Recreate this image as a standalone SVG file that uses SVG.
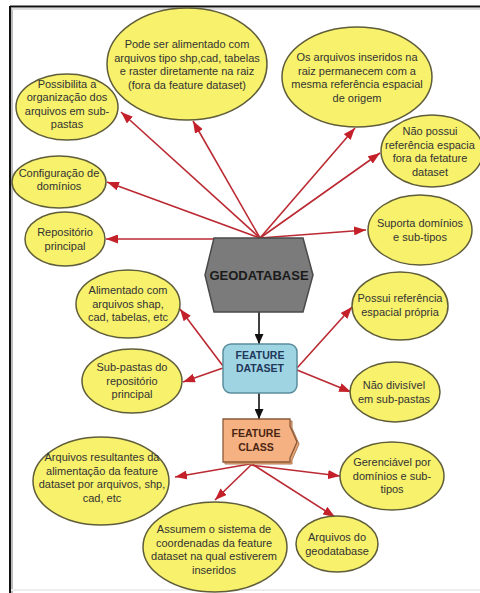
<svg xmlns="http://www.w3.org/2000/svg" width="480" height="593" viewBox="0 0 480 593">
<defs>
<style>
.el{fill:#f7f16b;stroke:#5f5d3a;stroke-width:1.5}
.t{font-family:"Liberation Sans",Arial,sans-serif;font-size:11px;fill:#333;text-anchor:middle}
.red{stroke:#bb2a32;stroke-width:1.6;fill:none;marker-end:url(#ar)}
.blk{stroke:#111;stroke-width:1.6;fill:none;marker-end:url(#ab)}
.bt{font-family:"Liberation Sans",Arial,sans-serif;font-weight:bold;text-anchor:middle}
</style>
<marker id="ar" markerUnits="userSpaceOnUse" markerWidth="12" markerHeight="9" refX="12" refY="4.5" orient="auto"><path d="M0,0 L12,4.5 L0,9 z" fill="#c4202a"/></marker>
<marker id="ab" markerUnits="userSpaceOnUse" markerWidth="10" markerHeight="9" refX="10" refY="4.5" orient="auto"><path d="M0,0 L10,4.5 L0,9 z" fill="#111"/></marker>
</defs>
<rect x="0" y="0" width="480" height="593" fill="#fff"/>
<g id="frame">
<line x1="10" y1="6.5" x2="480" y2="6.5" stroke="#111" stroke-width="2"/>
<line x1="10" y1="6" x2="10" y2="593" stroke="#111" stroke-width="2"/>
<line x1="12" y1="8" x2="12" y2="593" stroke="#bbb" stroke-width="2"/>
<line x1="12" y1="9" x2="480" y2="9" stroke="#ddd" stroke-width="2"/>
<line x1="11" y1="590" x2="480" y2="590" stroke="#eee" stroke-width="2"/>
</g>
<g id="connectors">
<line class="red" x1="260" y1="238" x2="193" y2="121"/>
<line class="red" x1="260" y1="238" x2="121" y2="112"/>
<line class="red" x1="260" y1="238" x2="107" y2="182"/>
<line class="red" x1="260" y1="239" x2="106" y2="239"/>
<line class="red" x1="260" y1="238" x2="355" y2="128"/>
<line class="red" x1="260" y1="238" x2="380" y2="153"/>
<line class="red" x1="260" y1="238" x2="366" y2="230"/>
<line class="blk" x1="259" y1="312" x2="259" y2="344"/>
<line class="blk" x1="259" y1="393" x2="259" y2="419"/>
<line class="red" x1="223" y1="366" x2="180" y2="309"/>
<line class="red" x1="223" y1="368" x2="183" y2="382"/>
<line class="red" x1="297" y1="368" x2="352" y2="307"/>
<line class="red" x1="297" y1="370" x2="351" y2="392"/>
<line class="red" x1="250" y1="464" x2="175" y2="477"/>
<line class="red" x1="251" y1="465" x2="215" y2="500"/>
<line class="red" x1="250" y1="465" x2="340" y2="476"/>
<line class="red" x1="252" y1="464" x2="335" y2="517"/>
</g>
<g id="n-pode">
<ellipse class="el" cx="187" cy="64" rx="80" ry="56"/>
<text class="t" x="187" y="48">Pode ser alimentado com</text>
<text class="t" x="187" y="61.5">arquivos tipo shp,cad, tabelas</text>
<text class="t" x="187" y="75">e raster diretamente na raiz</text>
<text class="t" x="187" y="88.5">(fora da feature dataset)</text>
</g>
<g id="n-raiz">
<ellipse class="el" cx="357" cy="77" rx="75" ry="50"/>
<text class="t" x="357" y="61">Os arquivos inseridos na</text>
<text class="t" x="357" y="74.5">raiz permanecem com a</text>
<text class="t" x="357" y="88">mesma referência espacial</text>
<text class="t" x="357" y="101.5">de origem</text>
</g>
<g id="n-possibilita">
<ellipse class="el" cx="67" cy="107" rx="51" ry="33"/>
<text class="t" x="67" y="87.5">Possibilita a</text>
<text class="t" x="67" y="101">organização dos</text>
<text class="t" x="67" y="114.5">arquivos em sub-</text>
<text class="t" x="67" y="128">pastas</text>
</g>
<g id="n-config">
<ellipse class="el" cx="59" cy="182" rx="47" ry="26"/>
<text class="t" x="59" y="176.5">Configuração de</text>
<text class="t" x="59" y="190">domínios</text>
</g>
<g id="n-repositorio">
<ellipse class="el" cx="65" cy="239" rx="40" ry="27"/>
<text class="t" x="65" y="236">Repositório</text>
<text class="t" x="65" y="249.5">principal</text>
</g>
<g id="n-naopossui">
<ellipse class="el" cx="432" cy="151" rx="51" ry="36"/>
<text class="t" x="430" y="135">Não possui</text>
<text class="t" x="430" y="148.5">referência espacia</text>
<text class="t" x="430" y="162">fora da fetature</text>
<text class="t" x="430" y="175.5">dataset</text>
</g>
<g id="n-suporta">
<ellipse class="el" cx="420" cy="230" rx="52" ry="35"/>
<text class="t" x="420" y="227">Suporta domínios</text>
<text class="t" x="420" y="240.5">e sub-tipos</text>
</g>
<g id="geodatabase">
<polygon points="214,238 303,238 313,275 303,312 214,312 205,275" fill="#7b7b7b" stroke="#4a4a4a" stroke-width="1.5"/>
<text class="bt" x="259" y="280" font-size="13" fill="#1a1a1a">GEODATABASE</text>
</g>
<g id="n-alimentado">
<ellipse class="el" cx="128" cy="304" rx="52" ry="34"/>
<text class="t" x="128" y="294">Alimentado com</text>
<text class="t" x="128" y="307.5">arquivos shap,</text>
<text class="t" x="128" y="321">cad, tabelas, etc</text>
</g>
<g id="n-subpastas">
<ellipse class="el" cx="132" cy="381" rx="50" ry="32"/>
<text class="t" x="132" y="371">Sub-pastas do</text>
<text class="t" x="132" y="384.5">repositório</text>
<text class="t" x="132" y="398">principal</text>
</g>
<g id="n-possui">
<ellipse class="el" cx="400" cy="306" rx="48" ry="34"/>
<text class="t" x="400" y="302">Possui referência</text>
<text class="t" x="400" y="315.5">espacial própria</text>
</g>
<g id="n-naodivisivel">
<ellipse class="el" cx="395" cy="392" rx="45" ry="30"/>
<text class="t" x="394" y="389">Não divisível</text>
<text class="t" x="394" y="402.5">em sub-pastas</text>
</g>
<g id="feature-dataset">
<rect x="223" y="344" width="74" height="49" rx="8" fill="#9fd4e3" stroke="#5a8d9c" stroke-width="1.5"/>
<text class="bt" x="260" y="359" font-size="10.5" fill="#22375a">FEATURE</text>
<text class="bt" x="260" y="372" font-size="10.5" fill="#22375a">DATASET</text>
</g>
<g id="feature-class">
<path d="M225,421 L292,421 L292,428 L299,444 L292,460 L292,464 L225,464 z" fill="#e8a574" stroke="#b07a55" stroke-width="1"/>
<path d="M223,419 L290,419 L290,426 L297,442 L290,458 L290,462 L223,462 z" fill="#f5b182" stroke="#8a5a3a" stroke-width="1.3"/>
<text class="bt" x="256" y="437" font-size="10.5" fill="#4a2612">FEATURE</text>
<text class="bt" x="256" y="451" font-size="10.5" fill="#4a2612">CLASS</text>
</g>
<g id="n-resultantes">
<ellipse class="el" cx="101" cy="481" rx="68" ry="44"/>
<text class="t" x="102" y="461">Arquivos resultantes da</text>
<text class="t" x="102" y="474.5">alimentação da feature</text>
<text class="t" x="102" y="488">dataset por arquivos, shp,</text>
<text class="t" x="102" y="501.5">cad, etc</text>
</g>
<g id="n-gerenciavel">
<ellipse class="el" cx="392" cy="476" rx="52" ry="34"/>
<text class="t" x="392" y="466">Gerenciável por</text>
<text class="t" x="392" y="479.5">domínios e sub-</text>
<text class="t" x="392" y="493">tipos</text>
</g>
<g id="n-assumem">
<ellipse class="el" cx="215" cy="547" rx="72" ry="45"/>
<text class="t" x="214" y="533">Assumem o sistema de</text>
<text class="t" x="214" y="546.5">coordenadas da feature</text>
<text class="t" x="214" y="560">dataset na qual estiverem</text>
<text class="t" x="214" y="573.5">inseridos</text>
</g>
<g id="n-arquivosgdb">
<ellipse class="el" cx="337" cy="544" rx="41" ry="28"/>
<text class="t" x="337" y="541">Arquivos do</text>
<text class="t" x="337" y="554.5">geodatabase</text>
</g>
</svg>
